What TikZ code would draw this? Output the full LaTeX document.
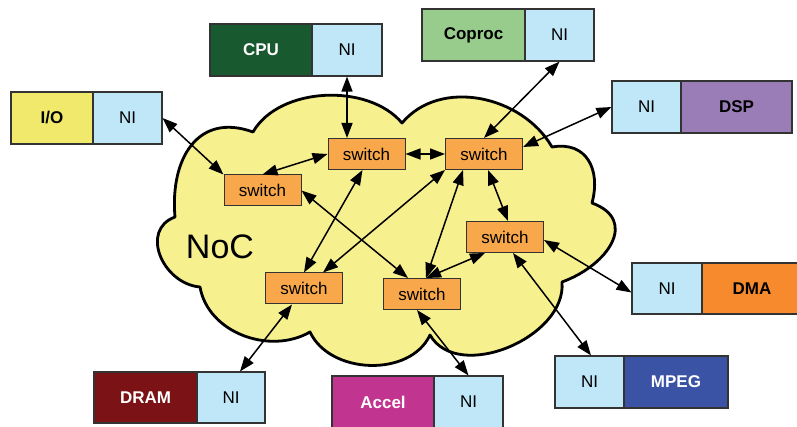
\documentclass[tikz,border=0pt]{standalone}
\usepackage{fontspec}
\setmainfont{Liberation Sans}
\usetikzlibrary{arrows.meta}

\definecolor{nifill}{HTML}{BFE7F8}
\definecolor{cpugreen}{HTML}{18592F}
\definecolor{copgreen}{HTML}{98CC8C}
\definecolor{ioyellow}{HTML}{F0E96B}
\definecolor{dsppurple}{HTML}{9A7CB6}
\definecolor{dramred}{HTML}{7A1216}
\definecolor{accelmag}{HTML}{C13591}
\definecolor{dmaorange}{HTML}{F68A2D}
\definecolor{mpegblue}{HTML}{3A53A4}
\definecolor{swfill}{HTML}{F8A84A}
\definecolor{cloudfill}{HTML}{F6F08F}
\definecolor{boxline}{HTML}{333333}

\begin{document}
\begin{tikzpicture}[x=1pt,y=1pt,
  box/.style={draw=boxline, line width=1.1pt, inner sep=0pt, minimum height=52pt,
    font=\fontsize{17}{20}\selectfont},
  dev/.style={box, font=\fontsize{17}{20}\selectfont\bfseries},
  ni/.style={box, fill=nifill},
  sw/.style={draw=boxline, fill=swfill, line width=1pt, minimum width=77pt,
    minimum height=31pt, inner sep=0pt, font=\fontsize{17}{20}\selectfont},
  link/.style={line width=1.5pt,
    {Triangle[length=15pt,width=11pt]}-{Triangle[length=15pt,width=11pt]}}]

\useasboundingbox (0,0) rectangle (797,-427);

% the network cloud
\draw[fill=cloudfill, line width=2.8pt, line join=round]
  (200,-287) to[out=-80, in=-150] (310,-332)
  to[out=-65, in=-115] (430,-335)
  to[out=-60, in=-85] (562,-282)
  to[out=20, in=-20, looseness=1.5] (592,-203)
  to[out=75, in=10, looseness=1.3] (552,-147)
  to[out=120, in=50] (402,-123)
  to[out=130, in=60, looseness=0.9] (253,-132)
  to[out=160, in=95, looseness=1.3] (175,-217)
  to[out=200, in=175, looseness=1.3] (200,-287) -- cycle;

\node[font=\fontsize{34}{40}\selectfont] (noc) at (220,-247) {NoC};

% processing elements and their network interfaces
\node[dev, fill=cpugreen, text=white, minimum width=102pt] (cpu) at (261,-50) {CPU};
\node[ni, minimum width=70pt] (cpuni) at (347,-50) {NI};

\node[dev, fill=ioyellow, minimum width=82pt] (io) at (52,-118) {I/O};
\node[ni, minimum width=69pt] (ioni) at (127.5,-118) {NI};

\node[dev, fill=copgreen, minimum width=103pt] (cop) at (473.5,-35) {Coproc};
\node[ni, minimum width=69pt] (copni) at (559.5,-35) {NI};

\node[ni, minimum width=69pt] (dspni) at (646.5,-107) {NI};
\node[dev, fill=dsppurple, minimum width=111pt] (dsp) at (736.5,-107) {DSP};

\node[dev, fill=dramred, text=white, minimum width=103pt, minimum height=51pt] (dram) at (145.5,-397.5) {DRAM};
\node[ni, minimum width=68pt, minimum height=51pt] (dramni) at (231,-397.5) {NI};

\node[dev, fill=accelmag, text=white, minimum width=102pt] (accel) at (383,-402) {Accel};
\node[ni, minimum width=69pt] (accelni) at (468.5,-402) {NI};

\node[ni, minimum width=70pt, minimum height=51pt] (dmani) at (667,-288.5) {NI};
\node[dev, fill=dmaorange, minimum width=100pt, minimum height=51pt] (dma) at (752,-288.5) {DMA};

\node[ni, minimum width=69pt] (mpegni) at (589.5,-382) {NI};
\node[dev, fill=mpegblue, text=white, minimum width=104pt] (mpeg) at (676,-382) {MPEG};

% switches
\node[sw] (s1) at (262.5,-190.5) {switch};
\node[sw] (s2) at (366.5,-154) {switch};
\node[sw] (s3) at (484,-154) {switch};
\node[sw] (s4) at (505,-237) {switch};
\node[sw] (s5) at (304,-288.5) {switch};
\node[sw] (s6) at (422,-294) {switch};

% links
\draw[link] (ioni.east) -- (s1.north west);
\draw[link] (cpuni.south) -- (cpuni.south |- s2.north);
\draw[link] (s2.west) -- (s1.north);
\draw[link] (s2.east) -- (s3.west);
\draw[link] (copni.south) -- (s3.north);
\draw[link] (dspni.west) -- ([yshift=7pt]s3.east);
\draw[link] (s1.east) -- ([xshift=-14pt]s6.north);
\draw[link] ([xshift=-4pt]s2.south) -- (s5.north);
\draw[link] (s3.south west) -- ([xshift=19pt]s5.north);
\draw[link] ([xshift=-21pt]s3.south) -- ([xshift=4pt]s6.north);
\draw[link] ([xshift=4pt]s3.south) -- ([xshift=3pt]s4.north);
\draw[link] ([xshift=-20pt]s4.south) -- ([xshift=4pt]s6.north);
\draw[link] ([yshift=-3pt]s4.east) -- ([yshift=-4pt]dmani.west);
\draw[link] ([xshift=8pt]s4.south) -- ([xshift=1.5pt]mpegni.north);
\draw[link] ([xshift=-12pt]s5.south) -- ([xshift=9pt]dramni.north);
\draw[link] ([xshift=-5pt]s6.south) -- (accelni.north);
\end{tikzpicture}
\end{document}
